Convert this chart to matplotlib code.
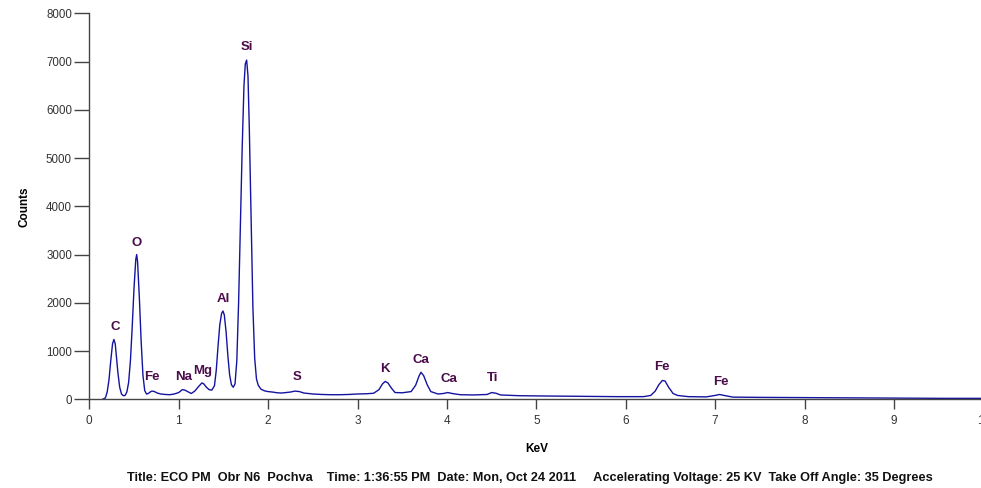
import matplotlib
matplotlib.use("Agg")
import matplotlib.pyplot as plt

plt.rcParams['font.family'] = ['Liberation Sans', 'DejaVu Sans']

# Spectrum (keV, counts)
energy = [0.15, 0.18, 0.20, 0.22, 0.24, 0.26, 0.275, 0.29, 0.30, 0.32, 0.34, 0.36, 0.38, 0.40,
          0.42, 0.44, 0.46, 0.48, 0.50, 0.52, 0.53, 0.54, 0.56, 0.58, 0.60, 0.62, 0.64, 0.66,
          0.68, 0.70, 0.72, 0.74, 0.76, 0.80, 0.85, 0.90, 0.95, 1.00, 1.04, 1.07, 1.10, 1.14,
          1.18, 1.22, 1.26, 1.28, 1.31, 1.34, 1.37, 1.40, 1.42, 1.44, 1.46, 1.48, 1.495, 1.51,
          1.53, 1.55, 1.57, 1.59, 1.61, 1.63, 1.65, 1.67, 1.69, 1.71, 1.73, 1.745, 1.76, 1.775,
          1.79, 1.81, 1.83, 1.85, 1.87, 1.89, 1.92, 1.96, 2.00, 2.05, 2.10, 2.15, 2.20, 2.25,
          2.30, 2.35, 2.40, 2.50, 2.60, 2.70, 2.80, 2.90, 3.00, 3.10, 3.18, 3.24, 3.28, 3.31,
          3.34, 3.38, 3.42, 3.50, 3.60, 3.65, 3.69, 3.71, 3.74, 3.78, 3.82, 3.90, 3.96, 4.01,
          4.06, 4.15, 4.30, 4.45, 4.50, 4.55, 4.60, 4.80, 5.00, 5.30, 5.60, 5.90, 6.20, 6.28,
          6.33, 6.37, 6.41, 6.44, 6.48, 6.53, 6.58, 6.70, 6.90, 7.00, 7.05, 7.10, 7.20, 7.50,
          8.00, 8.50, 9.00, 9.50, 10.0]
counts = [0, 30, 150, 400, 800, 1150, 1240, 1150, 950, 550, 250, 110, 75, 80,
          150, 350, 800, 1500, 2300, 2900, 3000, 2850, 2100, 1200, 500, 180, 110, 120,
          150, 170, 165, 150, 130, 110, 100, 95, 110, 140, 200, 190, 160, 120,
          170, 260, 340, 320, 250, 200, 190, 280, 600, 1100, 1550, 1780, 1830, 1750,
          1400, 900, 500, 300, 250, 320, 800, 2000, 3600, 5200, 6500, 6950, 7030, 6700,
          5600, 3700, 1900, 850, 420, 290, 210, 175, 160, 150, 135, 130, 140, 150,
          170, 160, 130, 110, 100, 95, 95, 100, 110, 115, 125, 200, 320, 370,
          340, 230, 140, 135, 160, 290, 490, 560, 490, 300, 160, 110, 120, 140,
          120, 95, 90, 100, 140, 125, 90, 75, 70, 65, 60, 55, 55, 80,
          170, 300, 390, 380, 250, 120, 80, 55, 50, 80, 100, 80, 45, 40,
          35, 30, 25, 20, 20]

labels = ["C", "O", "Fe", "Na", "Mg", "Al", "Si", "S", "K", "Ca", "Ca", "Ti", "Fe", "Fe"]
label_x = [0.29, 0.53, 0.70, 1.05, 1.27, 1.495, 1.76, 2.32, 3.31, 3.71, 4.02, 4.51, 6.40, 7.06]
label_y = [1500, 3245, 470, 465, 593, 2080, 7295, 470, 622, 815, 415, 435, 676, 365]

xticks = list(range(0, 11))
yticks = list(range(0, 8001, 1000))

W, H = 981, 488
fig = plt.figure(figsize=(W / 100, H / 100), dpi=100)
ax = fig.add_axes([89.3 / W, (H - 399.3) / H, 894 / W, 386 / H])
ax.set_xlim(0, 10)
ax.set_ylim(0, 8000)
ax.plot(energy, counts, color="#1414a0", lw=1.0)

for t, x, y in zip(labels, label_x, label_y):
    ax.text(x, y, t, ha="center", va="center", fontsize=9.5, fontweight="bold",
            color="#4a0c4a")

for s in ["top", "right"]:
    ax.spines[s].set_visible(False)
for s in ["left", "bottom"]:
    ax.spines[s].set_color("#444444")
    ax.spines[s].set_linewidth(1.0)
ax.set_xticks(xticks)
ax.set_yticks(yticks)
ax.tick_params(axis="x", direction="out", length=7, width=1, color="#444444",
               labelsize=8.5, labelcolor="#333333", pad=4)
ax.tick_params(axis="y", direction="out", length=10.5, width=1, color="#444444",
               labelsize=8.3, labelcolor="#333333", pad=2)
ax.set_xlabel("KeV", fontsize=8.5, fontweight="bold", labelpad=12)
ax.set_ylabel("Counts", fontsize=8.5, fontweight="bold", labelpad=11)

fig.text(530 / W, 1 - 478 / H,
         "Title: ECO PM  Obr N6  Pochva    Time: 1:36:55 PM  Date: Mon, Oct 24 2011     "
         "Accelerating Voltage: 25 KV  Take Off Angle: 35 Degrees",
         ha="center", va="center", fontsize=9.2, fontweight="bold", color="#111111")

fig.savefig("out.png", dpi=100)
